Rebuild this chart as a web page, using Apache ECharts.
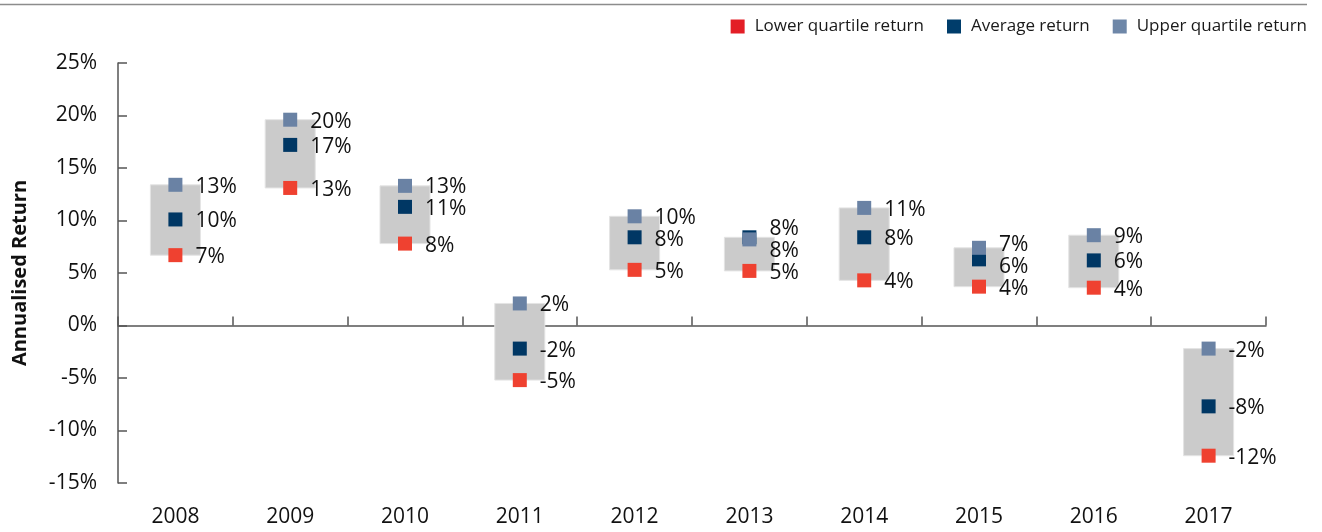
<!DOCTYPE html>
<html>
<head>
<meta charset="utf-8">
<script src="https://cdn.jsdelivr.net/npm/echarts@6/dist/echarts.min.js"></script>
<style>
html,body{margin:0;padding:0;background:#fff;}
#chart{width:1322px;height:532px;}
</style>
</head>
<body>
<div id="chart"></div>
<script>
// ---- data ----
const years = ['2008','2009','2010','2011','2012','2013','2014','2015','2016','2017'];
const lowerQuartile = [6.7, 13.1, 7.8, -5.2, 5.3, 5.2, 4.3, 3.7, 3.6, -12.4];
const averageReturn = [10.1, 17.2, 11.3, -2.2, 8.4, 8.4, 8.4, 6.3, 6.2, -7.7];
const upperQuartile = [13.4, 19.6, 13.3, 2.1, 10.4, 8.2, 11.2, 7.4, 8.6, -2.2];
const yTicks = { min: -15, max: 25, step: 5 };
const seriesNames = ['Lower quartile return', 'Average return', 'Upper quartile return'];

// ---- styling ----
const FONT = 'Open Sans';
const markerColors = ['#EF4130', '#003764', '#6A82A4'];
const legendColors = ['#E31E26', '#003D6B', '#6E87A8'];
const boxColor = '#CBCBCB';
const axisColor = '#555555';
const textColor = '#111111';

const chart = echarts.init(document.getElementById('chart'), null, { renderer: 'canvas' });
const allSeries = [lowerQuartile, averageReturn, upperQuartile];

// push labels of the same category apart when they would overlap
function labelLayoutFor(sIdx) {
  return function (params) {
    const i = params.dataIndex;
    const ys = allSeries.map(arr => chart.convertToPixel({ yAxisIndex: 0 }, arr[i]));
    const adj = ys.slice();
    const order = [0, 1, 2].sort((a, b) => ys[a] - ys[b]);
    const minSep = 22;
    for (let it = 0; it < 30; it++) {
      for (let k = 0; k < order.length - 1; k++) {
        const a = order[k], b = order[k + 1];
        const gap = adj[b] - adj[a];
        if (gap < minSep) {
          const s = (minSep - gap) / 2;
          adj[a] -= s; adj[b] += s;
        }
      }
    }
    return { dy: adj[sIdx] - ys[sIdx] + 2 };
  };
}

const rangeData = years.map((y, i) => {
  const vals = [lowerQuartile[i], averageReturn[i], upperQuartile[i]];
  return [i, Math.min.apply(null, vals), Math.max.apply(null, vals)];
});

const scatterSeries = allSeries.map((arr, s) => ({
  name: seriesNames[s],
  type: 'scatter',
  xAxisIndex: 0,
  yAxisIndex: 0,
  symbol: 'rect',
  symbolSize: 14,
  itemStyle: { color: markerColors[s], opacity: 1 },
  z: 3 + s,
  data: arr,
  label: {
    show: true,
    position: 'right',
    distance: 13,
    color: textColor,
    fontFamily: FONT,
    fontSize: 21,
    formatter: p => Math.round(p.value) + '%'
  },
  labelLayout: labelLayoutFor(s),
  emphasis: { disabled: true }
}));

const option = {
  animation: false,
  backgroundColor: '#ffffff',
  textStyle: { fontFamily: FONT },
  graphic: [{
    type: 'line',
    shape: { x1: 0, y1: 4.5, x2: 1307, y2: 4.5 },
    style: { stroke: '#8c8c8c', lineWidth: 1.5 },
    silent: true
  }],
  legend: {
    right: 10,
    top: 13,
    icon: 'rect',
    itemWidth: 14,
    itemHeight: 14,
    itemGap: 23,
    selectedMode: false,
    itemStyle: { opacity: 1 },
    textStyle: { fontFamily: FONT, fontSize: 17, color: '#1a1a1a', padding: [0, 0, 0, 5] },
    data: seriesNames.map((n, s) => ({ name: n, itemStyle: { color: legendColors[s], opacity: 1 } }))
  },
  grid: { left: 118, right: 56, top: 63, bottom: 49, containLabel: false },
  xAxis: [{
    type: 'category',
    data: years,
    position: 'bottom',
    boundaryGap: true,
    axisLine: { show: true, onZero: true, lineStyle: { color: axisColor, width: 1.5 } },
    axisTick: { show: true, inside: true, length: 9, lineStyle: { color: axisColor, width: 1.5 } },
    axisLabel: { show: false },
    splitLine: { show: false }
  }, {
    type: 'category',
    data: years,
    position: 'bottom',
    boundaryGap: true,
    axisLine: { show: false, onZero: false },
    axisTick: { show: false },
    axisLabel: { show: true, margin: 24, color: textColor, fontFamily: FONT, fontSize: 21 },
    splitLine: { show: false }
  }],
  yAxis: {
    type: 'value',
    min: yTicks.min,
    max: yTicks.max,
    interval: yTicks.step,
    name: 'Annualised Return',
    nameLocation: 'middle',
    nameRotate: 90,
    nameGap: 88,
    nameTextStyle: { fontFamily: FONT, fontSize: 20, fontWeight: 'bold', color: textColor },
    axisLine: { show: true, lineStyle: { color: axisColor, width: 1.5 } },
    axisTick: { show: true, inside: true, length: 9, lineStyle: { color: axisColor, width: 1.5 } },
    axisLabel: { margin: 21, color: textColor, fontFamily: FONT, fontSize: 21, formatter: '{value}%' },
    splitLine: { show: false }
  },
  series: [{
    name: 'range',
    type: 'custom',
    xAxisIndex: 0,
    yAxisIndex: 0,
    z: 1,
    silent: true,
    encode: { x: 0, y: [1, 2] },
    data: rangeData,
    renderItem: function (params, api) {
      const x = api.value(0);
      const top = api.coord([x, api.value(2)]);
      const bot = api.coord([x, api.value(1)]);
      const w = api.size([1, 0])[0] * 0.436;
      return {
        type: 'rect',
        shape: { x: top[0] - w / 2, y: top[1], width: w, height: bot[1] - top[1] },
        style: { fill: boxColor, stroke: '#e4e4e4', lineWidth: 1 }
      };
    }
  }].concat(scatterSeries)
};

chart.setOption(option);
</script>
</body>
</html>
